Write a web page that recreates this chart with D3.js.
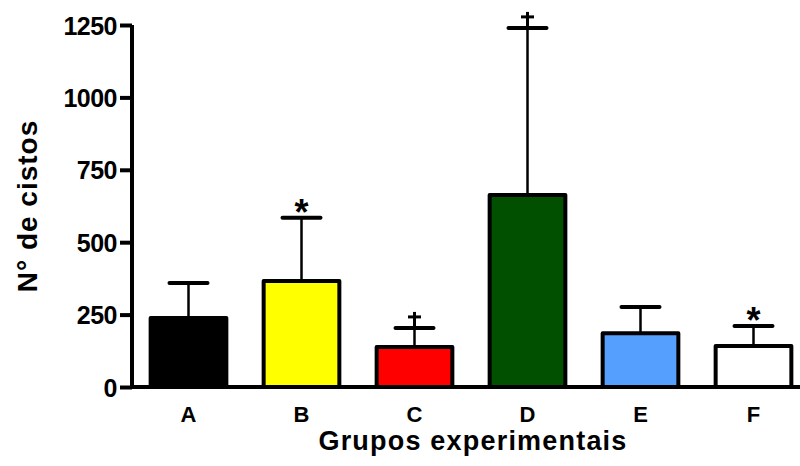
<!DOCTYPE html>
<html>
<head>
<meta charset="utf-8">
<script src="https://cdn.jsdelivr.net/npm/d3@7"></script>
<style>
  body { margin: 0; background: #fff; }
  text { font-family: "Liberation Sans", Arial, sans-serif; font-weight: bold; fill: #000; }
</style>
</head>
<body>
<div id="chart"></div>
<script>
var groups = ['A', 'B', 'C', 'D', 'E', 'F'];
var means = [238, 366, 138, 663, 186, 142];
var errs = [359, 584, 204, 1240, 276, 211];
var colors = ['#000000', '#ffff00', '#ff0000', '#005000', '#55a0ff', '#ffffff'];
var marks = ['', '*', 'dagger', 'dagger', '', '*'];
var yTicks = [0, 250, 500, 750, 1000, 1250];

var width = 800;
var height = 466;

var svg = d3.select('#chart')
    .append('svg')
    .attr('width', width)
    .attr('height', height);

var x = d3.scaleBand()
    .domain(groups)
    .range([132, 810])
    .paddingInner(0.33)
    .paddingOuter(0.165);

var y = d3.scaleLinear()
    .domain([0, 1250])
    .range([387, 25]);

var data = groups.map(function(g, i) {
    return {g: g, mean: means[i], err: errs[i], color: colors[i], mark: marks[i]};
});
var cx = d => x(d.g) + x.bandwidth() / 2;

// error bars first so the bars sit over the stems
var eb = svg.append('g');
eb.selectAll('line.stem')
    .data(data).enter()
    .append('line')
    .attr('x1', cx)
    .attr('x2', cx)
    .attr('y1', d => y(d.mean))
    .attr('y2', d => y(d.err))
    .attr('stroke', '#000')
    .attr('stroke-width', 2.5);

eb.selectAll('line.cap')
    .data(data).enter()
    .append('line')
    .attr('x1', d => cx(d) - 19)
    .attr('x2', d => cx(d) + 19)
    .attr('y1', d => y(d.err))
    .attr('y2', d => y(d.err))
    .attr('stroke', '#000')
    .attr('stroke-width', 4)
    .attr('stroke-linecap', 'round');

svg.append('g').selectAll('rect')
    .data(data).enter()
    .append('rect')
    .attr('x', d => x(d.g))
    .attr('y', d => y(d.mean))
    .attr('width', x.bandwidth())
    .attr('height', d => y(0) - y(d.mean))
    .attr('fill', d => d.color)
    .attr('stroke', '#000')
    .attr('stroke-width', 4)
    .attr('stroke-linejoin', 'round');

// significance marks
svg.append('g').selectAll('text')
    .data(data.filter(d => d.mark == '*'))
    .enter()
    .append('text')
    .attr('x', cx)
    .attr('y', d => y(d.err) + 7)
    .attr('text-anchor', 'middle')
    .style('font-size', '36px')
    .text('*');

var dg = svg.append('g').selectAll('g')
    .data(data.filter(d => d.mark == 'dagger'))
    .enter()
    .append('g');
dg.append('line')
    .attr('x1', cx).attr('x2', cx)
    .attr('y1', d => y(d.err))
    .attr('y2', d => y(d.err) - 16)
    .attr('stroke', '#000')
    .attr('stroke-width', 3);
dg.append('line')
    .attr('x1', d => cx(d) - 6.5).attr('x2', d => cx(d) + 6.5)
    .attr('y1', d => y(d.err) - 11)
    .attr('y2', d => y(d.err) - 11)
    .attr('stroke', '#000')
    .attr('stroke-width', 3);

// y axis
var yAxis = svg.append('g')
    .attr('transform', 'translate(132,0)')
    .call(d3.axisLeft(y).tickValues(yTicks).tickFormat(d3.format('d')).tickSize(12).tickPadding(3));
yAxis.select('.domain').attr('stroke-width', 4).attr('d', 'M0,' + y(1250) + 'V' + y(0));
yAxis.selectAll('.tick line').attr('stroke-width', 4);
yAxis.selectAll('.tick text')
    .attr('dy', '0.36em')
    .style('font-size', '25px')
    .style('font-weight', 'bold')
    .style('font-family', '"Liberation Sans", Arial, sans-serif')
    .style('letter-spacing', '-0.5px');

// x axis
var xAxis = svg.append('g')
    .attr('transform', 'translate(0,387)')
    .call(d3.axisBottom(x).tickSize(0).tickPadding(0));
xAxis.select('.domain').attr('stroke-width', 4).attr('d', 'M130,0H810');
xAxis.selectAll('.tick text')
    .attr('y', 35)
    .attr('dy', 0)
    .style('font-size', '22px')
    .style('font-weight', 'bold')
    .style('font-family', '"Liberation Sans", Arial, sans-serif');

svg.append('text')
    .attr('x', 473)
    .attr('y', 450)
    .attr('text-anchor', 'middle')
    .style('font-size', '27px')
    .style('letter-spacing', '1.2px')
    .text('Grupos experimentais');

svg.append('text')
    .attr('transform', 'translate(37,206) rotate(-90)')
    .attr('text-anchor', 'middle')
    .style('font-size', '28px')
    .style('letter-spacing', '1px')
    .text('N\u00b0 de cistos');
</script>
</body>
</html>
